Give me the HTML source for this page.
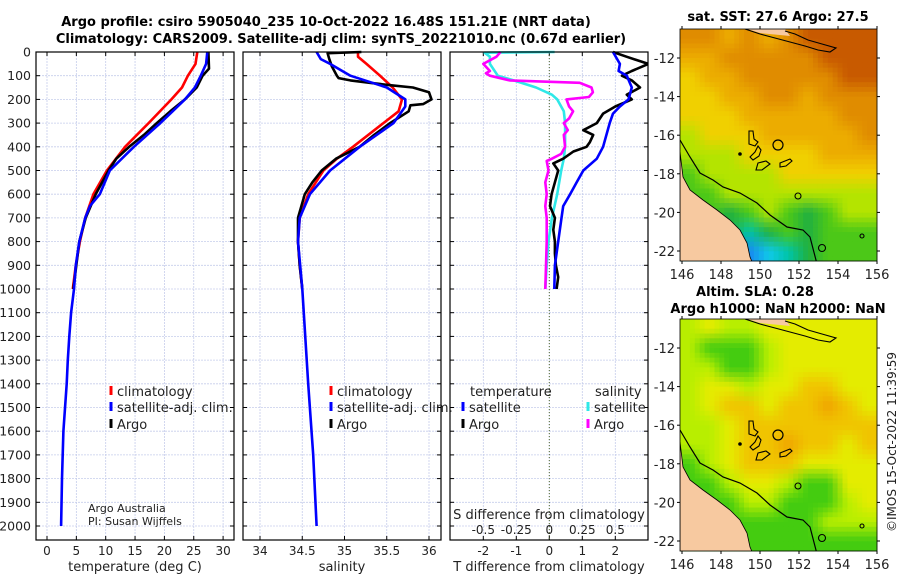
<!DOCTYPE html>
<html><head><meta charset="utf-8">
<style>
html,body{margin:0;padding:0;background:#fff;}
svg{display:block;font-family:"DejaVu Sans","Liberation Sans",sans-serif;}
.t{font-size:12px;fill:#222;}
.b{font-size:13px;font-weight:bold;fill:#000;}
</style></head>
<body>
<svg id="fig" width="900" height="580" viewBox="0 0 900 580"></svg>
<script>
// ---------- data ----------
const tClimDepth = [0,50,100,150,200,300,400,500,600,700,800,900,1000];
const tClim      = [25.6,25.3,24.0,23.0,21.2,17.3,13.3,10.2,7.9,6.5,5.6,4.9,4.4];
const tSatDepth  = [0,50,100,150,200,250,300,400,500,600,650,700,800,900,1000,1100,1200,1300,1400,1600,1800,2000];
const tSat       = [27.3,27.1,26.2,25.2,23.5,21.4,19.3,14.8,10.7,9.0,7.3,6.5,5.5,4.9,4.6,4.1,3.8,3.55,3.35,2.8,2.55,2.4];
const tArgoDepth = [0,70,100,150,200,250,300,350,400,450,500,600,700,800,900,1000];
const tArgo      = [27.5,27.6,26.5,25.5,23.5,21.0,18.7,16.5,14.0,11.8,10.5,8.3,6.6,5.5,5.0,4.5];

const sClimDepth = [0,20,50,100,150,200,250,300,400,450,500,600,700,800,900,1000];
const sClim      = [35.16,35.16,35.26,35.42,35.57,35.68,35.64,35.46,35.10,34.91,34.75,34.57,34.47,34.45,34.47,34.50];
const sSatDepth  = [0,30,50,100,150,200,230,300,400,500,600,700,800,1000,1400,1700,2000];
const sSat       = [34.67,34.72,34.83,35.07,35.50,35.72,35.72,35.58,35.18,34.83,34.59,34.47,34.45,34.50,34.57,34.63,34.67];
const sArgoDepth = [0,5,30,60,100,110,120,130,140,150,170,200,220,225,250,300,350,400,450,500,550,600,700,800,900,1000];
const sArgo      = [35.2,34.8,34.82,34.85,34.91,34.93,35.07,35.3,35.54,35.81,36.0,36.03,35.93,35.78,35.76,35.54,35.35,35.18,34.9,34.73,34.62,34.53,34.45,34.45,34.47,34.5];

const dTArgoDepth = [0,20,50,80,100,120,150,180,200,230,260,300,330,350,380,400,420,450,470,500,550,600,650,700,750,800,850,900,950,1000];
const dTArgo      = [1.93,2.34,3.0,2.5,2.2,2.5,2.75,2.35,2.5,2.0,1.63,1.44,1.03,1.33,1.23,1.13,0.73,0.42,0.12,0.27,0.17,0.07,0.02,0.17,0.12,0.17,0.17,0.2,0.27,0.22];
const dTSatDepth  = [0,50,80,100,150,200,230,260,300,400,450,500,550,600,650,700,800,900,1000];
const dTSat       = [1.93,2.14,2.1,2.35,2.5,2.4,2.14,1.93,1.83,1.63,1.44,1.03,0.83,0.63,0.42,0.37,0.27,0.17,0.15];
const dSSatDepth  = [0,3,20,50,100,120,150,180,200,250,300,400,450,500,600,700,800,900,1000];
const dSSat       = [0.04,-0.49,-0.45,-0.45,-0.39,-0.27,-0.1,0.02,0.06,0.11,0.12,0.12,0.11,0.09,0.06,0.02,-0.006,-0.02,-0.03];
const dSArgoDepth = [0,20,50,80,90,100,120,130,150,170,190,200,230,250,280,300,330,350,400,430,450,460,500,550,600,650,700,800,900,1000];
const dSArgo      = [-0.37,-0.4,-0.5,-0.45,-0.48,-0.45,-0.3,0.23,0.32,0.33,0.3,0.13,0.15,0.18,0.15,0.11,0.14,0.11,0.12,0.09,0.02,-0.02,-0.006,-0.03,-0.02,-0.03,-0.02,-0.02,-0.025,-0.03];

const depthTicks = [0,100,200,300,400,500,600,700,800,900,1000,1100,1200,1300,1400,1500,1600,1700,1800,1900,2000];
const tTicks = [0,5,10,15,20,25,30];
const sTicks = [34,34.5,35,35.5,36];
const dTTicks = [-2,-1,0,1,2];
const dSTicks = [-0.5,-0.25,0,0.25,0.5];
const lonTicks = [146,148,150,152,154,156];
const latTicks = [-12,-14,-16,-18,-20,-22];

const sstGrid = ["OOoOoODDDD","ooOOOOODDD","YooOOOOODD","YYooOOoOOO","YYYoooooOO","LYYYoooooO","LLLYYYYooo","GLLLLYYYYY","GGLLLLLLLL","GGgGLGgGLL","gggCgGgGGG","CCCBcCgGGG"];
const slaGrid = ["LYLLYYYYYY","LGGGLYYYYY","LLGGLYYYYY","LYYLYYooYY","LYooYooOoY","LLYooooooo","LLYooOooYo","GLYoooYYYY","GGLYYLGGYY","GGGLLGGGLY","GGGGGGGLLL","GGGGGGGGGG"];

// ---------- helpers ----------
const NS="http://www.w3.org/2000/svg";
const svg=document.getElementById('fig');
function mk(tag,attrs,parent){const e=document.createElementNS(NS,tag);for(const k in attrs)e.setAttribute(k,attrs[k]);(parent||svg).appendChild(e);return e;}
function txt(x,y,s,cls,anchor,parent){const e=mk('text',{x:x,y:y,class:cls,'text-anchor':anchor||'start'},parent);e.textContent=s;return e;}

const Y0=52, PX100=23.7, BOT=540;
const yD=d=>Y0+d*PX100/100;
const xT=v=>47+v*5.87;
const xS=v=>260+(v-34)*84.5;
const xdT=v=>549.3+v*33;
const xdS=v=>549.3+v*132;

const panels=[{x0:36,x1:234},{x0:243,x1:441},{x0:450,x1:648}];

function line(depths,vals,fx,color,clipId,name,g){
  const pts=depths.map((d,i)=>fx(vals[i]).toFixed(1)+','+yD(d).toFixed(1)).join(' ');
  const p=mk('polyline',{points:pts,fill:'none',stroke:color,'stroke-width':2.6,'stroke-linejoin':'round','clip-path':'url(#'+clipId+')'},g);
  
  
}

const defs=mk('defs',{});
panels.forEach((p,i)=>{const c=mk('clipPath',{id:'clip'+i},defs);mk('rect',{x:p.x0,y:Y0-2,width:p.x1-p.x0,height:BOT-Y0+2},c);});

const title=mk('g',{});


txt(326,26,'Argo profile: csiro 5905040_235 10-Oct-2022 16.48S 151.21E (NRT data)','b','middle',title);
txt(341,43,'Climatology: CARS2009. Satellite-adj clim: synTS_20221010.nc (0.67d earlier)','b','middle',title);

function panel(i,xTicksArr,fx,labels,xTitle,name){
  const p=panels[i];
  const g=mk('g',{});
  
  
  depthTicks.forEach(d=>{const y=yD(d);
    mk('line',{x1:p.x0,x2:p.x1,y1:y,y2:y,stroke:'#c6cdeb','stroke-width':0.8,'stroke-dasharray':'2,1'},g);
    mk('line',{x1:p.x0,x2:p.x0+4,y1:y,y2:y,stroke:'#000'},g);
    mk('line',{x1:p.x1-4,x2:p.x1,y1:y,y2:y,stroke:'#000'},g);
  });
  xTicksArr.forEach((v,k)=>{const x=fx(v);
    mk('line',{x1:x,x2:x,y1:Y0,y2:BOT,stroke:'#c6cdeb','stroke-width':0.8,'stroke-dasharray':'2,1'},g);
    mk('line',{x1:x,x2:x,y1:BOT-4,y2:BOT,stroke:'#000'},g);
    mk('line',{x1:x,x2:x,y1:Y0,y2:Y0+4,stroke:'#000'},g);
    if(labels) txt(x,555,labels[k],'t','middle',g);
  });
  txt((p.x0+p.x1)/2,571,xTitle,'t','middle',g).setAttribute('style','font-size:13px');
  return g;
}
const g1=panel(0,tTicks,xT,tTicks.map(String),'temperature (deg C)','temperature-panel');
const g2=panel(1,sTicks,xS,sTicks.map(String),'salinity','salinity-panel');
const g3=panel(2,dTTicks,xdT,dTTicks.map(String),'T difference from climatology','difference-panel');
mk('line',{x1:xdT(0),x2:xdT(0),y1:Y0,y2:BOT,stroke:'#556b2f','stroke-width':1,'stroke-dasharray':'1,2'},g3);
dSTicks.forEach(v=>txt(xdS(v),534,String(v),'t','middle',g3));
txt(549,519,'S difference from climatology','t','middle',g3).setAttribute('style','font-size:13px');

depthTicks.forEach(d=>txt(31,yD(d)+4.5,String(d),'t','end').setAttribute('style','font-size:12.5px'));

line(tClimDepth,tClim,xT,'#f00','clip0','temp-climatology-line',g1);
line(tArgoDepth,tArgo,xT,'#000','clip0','temp-argo-line',g1);
line(tSatDepth,tSat,xT,'#00f','clip0','temp-satellite-line',g1);
line(sClimDepth,sClim,xS,'#f00','clip1','sal-climatology-line',g2);
line(sArgoDepth,sArgo,xS,'#000','clip1','sal-argo-line',g2);
line(sSatDepth,sSat,xS,'#00f','clip1','sal-satellite-line',g2);
line(dSSatDepth,dSSat,xdS,'#2ee8e8','clip2','sdiff-satellite-line',g3);
line(dSArgoDepth,dSArgo,xdS,'#f0f','clip2','sdiff-argo-line',g3);
line(dTArgoDepth,dTArgo,xdT,'#000','clip2','tdiff-argo-line',g3);
line(dTSatDepth,dTSat,xdT,'#00f','clip2','tdiff-satellite-line',g3);

panels.forEach(p=>mk('rect',{x:p.x0,y:Y0,width:p.x1-p.x0,height:BOT-Y0,fill:'none',stroke:'#000','stroke-width':1.2}));

function legend(x,y,color,label,name){
  const g=mk('g',{});
  
  
  mk('rect',{x:x-1.5,y:y-10,width:3,height:9,fill:color},g);
  txt(x+6,y,label,'t','start',g).setAttribute('style','font-size:13px');
}
legend(111,396,'#f00','climatology','legend-temp-climatology');
legend(111,412,'#00f','satellite-adj. clim.','legend-temp-satellite');
legend(111,429,'#000','Argo','legend-temp-argo');
legend(331,396,'#f00','climatology','legend-sal-climatology');
legend(331,412,'#00f','satellite-adj. clim.','legend-sal-satellite');
legend(331,429,'#000','Argo','legend-sal-argo');
txt(470,396,'temperature','t','start').setAttribute('style','font-size:13px');
txt(595,396,'salinity','t','start').setAttribute('style','font-size:13px');
legend(463,412,'#00f','satellite','legend-tdiff-satellite');
legend(463,429,'#000','Argo','legend-tdiff-argo');
legend(588,412,'#2ee8e8','satellite','legend-sdiff-satellite');
legend(588,429,'#f0f','Argo','legend-sdiff-argo');
txt(88,512,'Argo Australia','t','start').setAttribute('style','font-size:11px');
txt(88,525,'PI: Susan Wijffels','t','start').setAttribute('style','font-size:11px');

// ---------- maps ----------
const pal={D:'#c85a00',O:'#e08c00',o:'#ecac00',Y:'#f0d000',y:'#e0e000',L:'#b4e400',G:'#4cc818',g:'#20b040',C:'#00c4a8',c:'#10c8e8',B:'#1888f0'};
const palSla={Y:'#e4ec00',L:'#b8ee00',G:'#44cc10',o:'#f0c400',O:'#f0a400'};
function hex2rgb(h){return [parseInt(h.substr(1,2),16),parseInt(h.substr(3,2),16),parseInt(h.substr(5,2),16)];}
function map(yTop,grid,palette,name,titleLines){
  const X0=680,X1=877,Y1=yTop+232;
  const g=mk('g',{});
  
  
  const cid='mc'+yTop;
  const cp=mk('clipPath',{id:cid},defs);mk('rect',{x:X0,y:yTop,width:X1-X0,height:Y1-yTop},cp);
  const cols=10,rows=12,F=4;
  const rgb=grid.map(r=>[...r].map(k=>hex2rgb(palette[k])));
  const fw=(X1-X0)/(cols*F),fh=(Y1-yTop)/(rows*F);
  for(let r=0;r<rows*F;r++)for(let c=0;c<cols*F;c++){
    let gy=(r+0.5)/F-0.5,gx=(c+0.5)/F-0.5;
    gy=Math.max(0,Math.min(rows-1,gy));gx=Math.max(0,Math.min(cols-1,gx));
    const y0=Math.floor(gy),x0=Math.floor(gx),y1=Math.min(rows-1,y0+1),x1=Math.min(cols-1,x0+1);
    const ty=gy-y0,tx=gx-x0;
    const col=[0,1,2].map(i=>Math.round(
      rgb[y0][x0][i]*(1-tx)*(1-ty)+rgb[y0][x1][i]*tx*(1-ty)+rgb[y1][x0][i]*(1-tx)*ty+rgb[y1][x1][i]*tx*ty));
    mk('rect',{x:(X0+c*fw).toFixed(2),y:(yTop+r*fh).toFixed(2),width:(fw+0.4).toFixed(2),height:(fh+0.4).toFixed(2),fill:'rgb('+col.join(',')+')'},g);
  }
  const dy=yTop-29;
  const outer=mk('g',{'clip-path':'url(#'+cid+')'},g);
  const cg=mk('g',{transform:'translate(0,'+dy+')'},outer);
  mk('polygon',{points:'680,152 683,177 690,190 703,200 717,210 730,220 740,230 747,243 750,257 753,264 680,264',fill:'#f7c9a0',stroke:'#000','stroke-width':0.8},cg);
  mk('polyline',{points:'680,140 690,157 700,173 713,180 723,187 740,193 757,203 770,215 787,227 803,230 810,237 817,264',fill:'none',stroke:'#000','stroke-width':1.2},cg);
  mk('polygon',{points:'747,29 785,29 790,36 760,33',fill:'#f7c9a0'},cg);
  mk('polyline',{points:'745,29 760,34 775,38 790,42 805,46 818,50 830,52 836,48 822,44 808,40 795,34 785,31',fill:'none',stroke:'#000','stroke-width':1.1},cg);
  mk('circle',{cx:778,cy:145,r:5,fill:'none',stroke:'#000','stroke-width':1.2},cg);
  mk('path',{d:'M749,131 l4,0 1,8 4,3 -3,4 -6,-2z',fill:'none',stroke:'#000','stroke-width':1.1},cg);
  mk('path',{d:'M758,146 l3,4 -2,6 -6,4 -3,-3 5,-5z',fill:'none',stroke:'#000','stroke-width':1.1},cg);
  mk('path',{d:'M758,163 l8,-2 4,3 -8,6 -6,0z',fill:'none',stroke:'#000','stroke-width':1.1},cg);
  mk('path',{d:'M780,163 l10,-4 2,2 -6,5 -6,1z',fill:'none',stroke:'#000','stroke-width':1.1},cg);
  mk('circle',{cx:740,cy:154,r:1.8,fill:'#000'},cg);
  mk('circle',{cx:798,cy:196,r:3,fill:'none',stroke:'#000','stroke-width':1.1},cg);
  mk('circle',{cx:862,cy:236,r:2,fill:'none',stroke:'#000','stroke-width':1.1},cg);
  mk('circle',{cx:822,cy:248,r:3.5,fill:'none',stroke:'#000','stroke-width':1.1},cg);
  mk('rect',{x:X0,y:yTop,width:X1-X0,height:Y1-yTop,fill:'none',stroke:'#000','stroke-width':0.8},g);
  latTicks.forEach(l=>{const y=yTop+29+(l+12)*-19.3;
    mk('line',{x1:X0,x2:X0-3,y1:y,y2:y,stroke:'#000'},g);
    mk('line',{x1:X1,x2:X1+3,y1:y,y2:y,stroke:'#000'},g);
    txt(675,y+5,String(l),'t','end',g).setAttribute('style','font-size:13px');
  });
  lonTicks.forEach(l=>{const x=682+(l-146)*19.5;
    mk('line',{x1:x,x2:x,y1:Y1,y2:Y1+3,stroke:'#000'},g);
    mk('line',{x1:x,x2:x,y1:yTop,y2:yTop-3,stroke:'#000'},g);
    txt(x,Y1+18,String(l),'t','middle',g).setAttribute('style','font-size:13px');
  });
  titleLines.forEach(tl=>txt(tl[0],tl[1],tl[2],'b','middle',g));
}
map(29,sstGrid,pal,'sst-map',[[778,21,'sat. SST: 27.6 Argo: 27.5']]);
map(319,slaGrid,palSla,'sla-map',[[755,296,'Altim. SLA: 0.28'],[778,313,'Argo h1000: NaN h2000: NaN']]);

const cr=txt(0,0,'©IMOS 15-Oct-2022 11:39:59','t','middle');
cr.setAttribute('transform','translate(896,442) rotate(-90)');
cr.setAttribute('style','font-size:12px');


</script>
</body></html>
